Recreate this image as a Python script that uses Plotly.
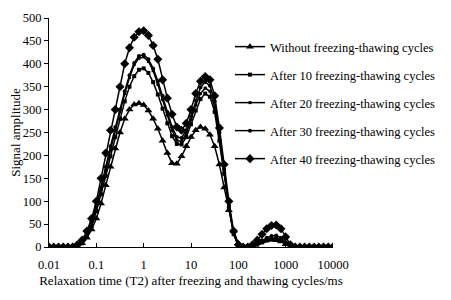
import plotly.graph_objects as go

# Relaxation time T2 (ms), sampled 10 points per decade
t2 = [0.01, 0.01259, 0.01585, 0.01995, 0.02512, 0.03162, 0.03981, 0.05012, 0.0631, 0.07943,
      0.1, 0.1259, 0.1585, 0.1995, 0.2512, 0.3162, 0.3981, 0.5012, 0.631, 0.7943,
      1, 1.259, 1.585, 1.995, 2.512, 3.162, 3.981, 5.012, 6.31, 7.943,
      10, 12.59, 15.85, 19.95, 25.12, 31.62, 39.81, 50.12, 63.1, 79.43,
      100, 125.9, 158.5, 199.5, 251.2, 316.2, 398.1, 501.2, 631, 794.3,
      1000, 1259, 1585, 1995, 2512, 3162, 3981, 5012, 6310, 7943,
      10000]

without = [0, 0, 0, 0, 0, 0, 2, 8, 20, 38,
           62, 95, 135, 175, 215, 250, 280, 300, 311, 314,
           310, 298, 280, 258, 232, 205, 183, 182, 198, 220,
           240, 255, 262, 258, 245, 220, 180, 130, 80, 35,
           8, 0, 0, 3, 8, 12, 15, 16, 15, 12,
           6, 1, 0, 0, 0, 0, 0, 0, 0, 0,
           0]

after10 = [0, 0, 0, 0, 0, 0, 2, 8, 22, 45,
           78, 115, 155, 198, 240, 280, 318, 350, 373, 387,
           390, 380, 360, 333, 302, 270, 242, 225, 224, 240,
           268, 298, 323, 335, 328, 295, 232, 160, 85, 28,
           3, 0, 0, 2, 5, 10, 14, 17, 18, 15,
           8, 2, 0, 0, 0, 0, 0, 0, 0, 0,
           0]

after20 = [0, 0, 0, 0, 0, 0, 3, 10, 27, 50,
           85, 125, 168, 212, 255, 295, 335, 370, 398, 412,
           415, 405, 385, 355, 322, 288, 255, 233, 230, 248,
           278, 310, 335, 347, 340, 305, 240, 165, 88, 28,
           3, 0, 0, 2, 6, 11, 16, 19, 20, 16,
           8, 2, 0, 0, 0, 0, 0, 0, 0, 0,
           0]

after30 = [0, 0, 0, 0, 0, 0, 3, 12, 30, 55,
           90, 130, 175, 220, 262, 300, 340, 375, 402, 417,
           420, 410, 390, 362, 330, 295, 262, 240, 238, 255,
           285, 320, 348, 360, 352, 318, 250, 170, 92, 30,
           4, 0, 0, 3, 8, 14, 20, 24, 25, 20,
           10, 2, 0, 0, 0, 0, 0, 0, 0, 0,
           0]

after40 = [0, 0, 0, 0, 0, 0, 5, 15, 35, 62,
           100, 150, 205, 255, 300, 350, 400, 435, 458, 470,
           472, 462, 440, 410, 365, 325, 290, 262, 255, 270,
           300, 335, 362, 372, 365, 330, 260, 180, 100, 35,
           5, 0, 0, 5, 15, 28, 40, 47, 48, 40,
           22, 5, 0, 0, 0, 0, 0, 0, 0, 0,
           0]

names = ["Without freezing-thawing cycles",
         "After 10 freezing-thawing cycles",
         "After 20 freezing-thawing cycles",
         "After 30 freezing-thawing cycles",
         "After 40 freezing-thawing cycles"]
series = [without, after10, after20, after30, after40]
symbols = ["triangle-up", "square", "square", "circle", "diamond"]
msizes = [7, 4, 3, 4, 7]

x_tick_vals = [0.01, 0.1, 1, 10, 100, 1000, 10000]
x_tick_text = ["0.01", "0.1", "1", "10", "100", "1000", "10000"]
y_tick_vals = [0, 50, 100, 150, 200, 250, 300, 350, 400, 450, 500]

FONT = "Liberation Serif, Times New Roman, serif"

# page body has an 8px margin, so the figure is sized to fill the rest
W, H = 443, 292

fig = go.Figure()
legend_keys = ["legend", "legend2", "legend3", "legend4", "legend5"]
legend_y = [39, 67, 95, 123, 151]
for i in range(5):
    fig.add_trace(go.Scatter(
        x=t2, y=series[i], name=names[i], mode="lines+markers",
        line=dict(color="black", width=1.5),
        marker=dict(symbol=symbols[i], size=msizes[i], color="black"),
        legend=legend_keys[i],
    ))

layout_legends = {}
for i, key in enumerate(legend_keys):
    layout_legends[key] = dict(
        xref="container", yref="container",
        x=222 / W, y=1 - legend_y[i] / H,
        xanchor="left", yanchor="middle",
        bgcolor="rgba(0,0,0,0)", borderwidth=0,
        font=dict(family=FONT, size=12.5, color="black"),
        itemwidth=30,
    )

fig.update_layout(
    width=W, height=H,
    margin=dict(l=41, r=118, t=10, b=53, autoexpand=False),
    paper_bgcolor="white", plot_bgcolor="white",
    font=dict(family=FONT, size=12, color="black"),
    showlegend=True,
    **layout_legends,
)

fig.update_xaxes(
    type="log", range=[-2, 4],
    tickvals=x_tick_vals, ticktext=x_tick_text, tickangle=0,
    ticks="inside", ticklen=4, tickcolor="black",
    ticklabelstandoff=6,
    showline=True, linecolor="black", linewidth=1,
    showgrid=False, zeroline=False, automargin=False,
    title=dict(text="Relaxation time (T2) after freezing and thawing cycles/ms",
               font=dict(family=FONT, size=13, color="black"), standoff=4),
    tickfont=dict(family=FONT, size=12.5, color="black"),
)
fig.update_yaxes(
    range=[0, 500], tickvals=y_tick_vals,
    ticks="outside", ticklen=4, tickcolor="black",
    showline=True, linecolor="black", linewidth=1,
    showgrid=False, zeroline=False, automargin=False,
    title=dict(text="Signal amplitude",
               font=dict(family=FONT, size=13, color="black"), standoff=6),
    tickfont=dict(family=FONT, size=12.5, color="black"),
)

fig.write_html("out.html")
